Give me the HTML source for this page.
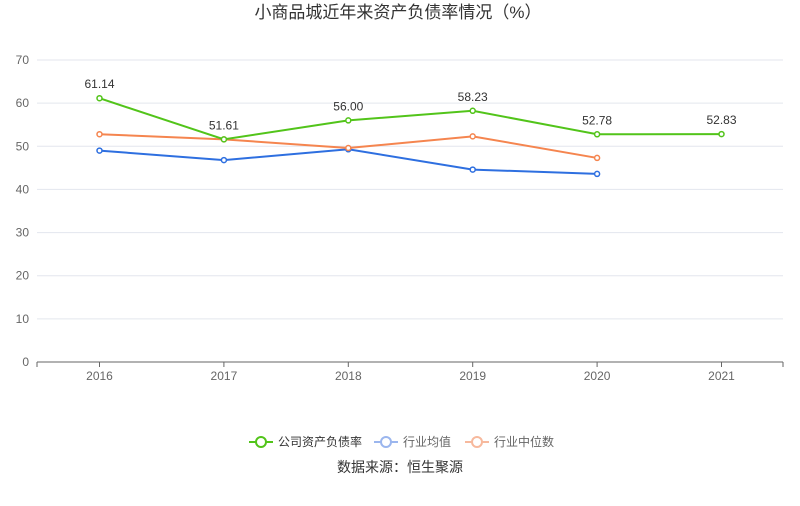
<!DOCTYPE html>
<html><head><meta charset="utf-8"><style>
body{margin:0;background:#fff;font-family:"Liberation Sans","Noto Sans CJK SC",sans-serif;}
</style></head><body>
<svg id="c" width="800" height="501" xmlns="http://www.w3.org/2000/svg">
<text x="398" y="18" text-anchor="middle" font-size="17" fill="#333">小商品城近年来资产负债率情况（%）</text>
<g id="grid"></g><g id="series"></g>
<g>
<g><line x1="249" y1="442" x2="273" y2="442" stroke="#52c41a" stroke-width="2"/><circle cx="261" cy="442" r="5" fill="#fff" stroke="#52c41a" stroke-width="2"/><text x="278" y="446" font-size="12" fill="#333">公司资产负债率</text></g>
<g><line x1="374" y1="442" x2="398" y2="442" stroke="#9bb6ee" stroke-width="2"/><circle cx="386" cy="442" r="5" fill="#fff" stroke="#9bb6ee" stroke-width="2"/><text x="403" y="446" font-size="12" fill="#666">行业均值</text></g>
<g><line x1="465" y1="442" x2="489" y2="442" stroke="#f7b99d" stroke-width="2"/><circle cx="477" cy="442" r="5" fill="#fff" stroke="#f7b99d" stroke-width="2"/><text x="494" y="446" font-size="12" fill="#666">行业中位数</text></g>
</g>
<text x="400" y="472" text-anchor="middle" font-size="14" fill="#333">数据来源：恒生聚源</text>
</svg>
<script>
const years=["2016","2017","2018","2019","2020","2021"];
const company=[61.14,51.61,56.00,58.23,52.78,52.83];
const industryMean=[49.0,46.8,49.3,44.6,43.6,null];
const industryMedian=[52.8,51.6,49.6,52.3,47.3,null];
const yTicks=[0,10,20,30,40,50,60,70];
const NS="http://www.w3.org/2000/svg";
const x=i=>99.5+i*124.4;
const y=v=>362-v*302/70;
const grid=document.getElementById('grid'),ser=document.getElementById('series');
function mk(tag,at,parent){const e=document.createElementNS(NS,tag);for(const k in at)e.setAttribute(k,at[k]);parent.appendChild(e);return e;}
yTicks.forEach(t=>{
 const l=mk('line',{x1:37,x2:783,y1:y(t),y2:y(t),stroke:t===0?'#666':'#e3e6ee','stroke-width':1},grid);
 
 
 const tx=mk('text',{x:29,y:y(t)+4,'text-anchor':'end','font-size':12,fill:'#666'},grid);tx.textContent=t;
 
 
});
years.forEach((yr,i)=>{
 mk('line',{x1:x(i),x2:x(i),y1:362,y2:367,stroke:'#666'},grid);
 const tx=mk('text',{x:x(i),y:380,'text-anchor':'middle','font-size':12,fill:'#666'},grid);tx.textContent=yr;
 
 
});
[37,783].forEach(px=>mk('line',{x1:px,x2:px,y1:362,y2:367,stroke:'#666'},grid));
function draw(data,color,name,labels){
 const pts=data.map((v,i)=>v==null?null:[x(i),y(v)]).filter(p=>p);
 const p=mk('polyline',{points:pts.map(p=>p.join(',')).join(' '),fill:'none',stroke:color,'stroke-width':2},ser);
 
 
 data.forEach((v,i)=>{if(v==null)return;
  const c=mk('circle',{cx:x(i),cy:y(v),r:2.5,fill:'#fff',stroke:color,'stroke-width':1.5},ser);
  
  
  if(labels){const t=mk('text',{x:x(i),y:y(v)-10,'text-anchor':'middle','font-size':12,fill:'#333'},ser);t.textContent=v.toFixed(2);
  
  }
 });
}
draw(industryMean,'#2e6fe0','industry-mean',false);
draw(industryMedian,'#f5854f','industry-median',false);
draw(company,'#52c41a','company',true);
</script>
</body></html>
